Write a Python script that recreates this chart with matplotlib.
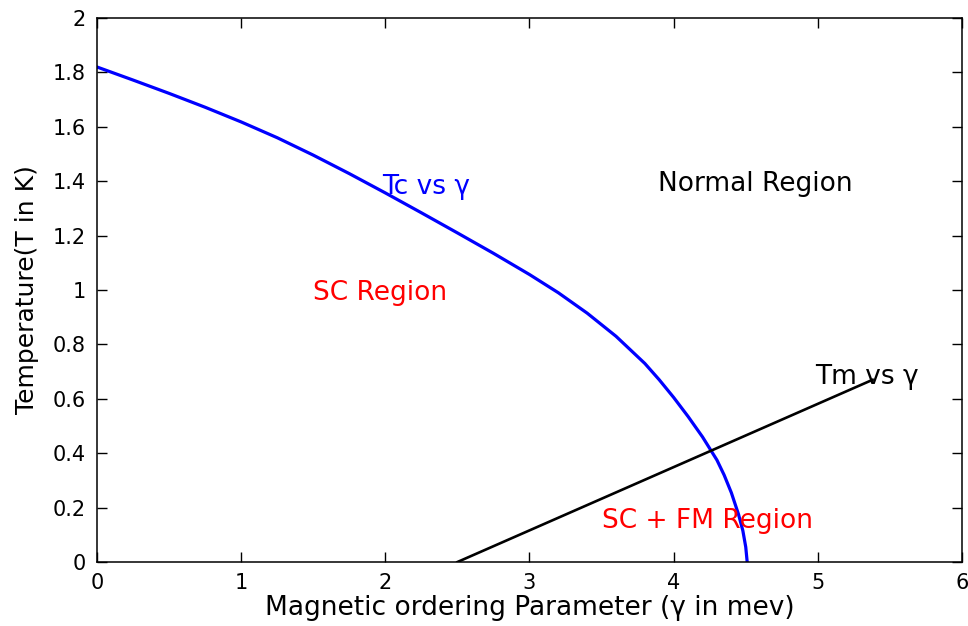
import matplotlib
matplotlib.use("Agg")
import matplotlib.pyplot as plt

# Tc vs gamma
gamma_tc = [0.0, 0.25, 0.5, 0.75, 1.0, 1.25, 1.5, 1.75, 2.0, 2.25, 2.5, 2.75, 3.0,
            3.2, 3.4, 3.6, 3.8, 3.9, 4.0, 4.1, 4.2, 4.3, 4.35, 4.4, 4.45, 4.48, 4.5, 4.51]
tc = [1.82, 1.772, 1.723, 1.672, 1.618, 1.56, 1.496, 1.428, 1.357, 1.284, 1.21, 1.135, 1.057,
      0.99, 0.915, 0.83, 0.73, 0.67, 0.605, 0.535, 0.46, 0.375, 0.32, 0.255, 0.175, 0.115, 0.055, 0.0]

# Tm vs gamma
gamma_tm = [2.5, 5.38]
tm = [0.0, 0.67]

plt.rcParams['font.family'] = ['DejaVu Sans']

fig = plt.figure(figsize=(9.68, 6.26), dpi=100)
ax = fig.add_axes([0.1002, 0.1022, 0.8936, 0.869])

ax.plot(gamma_tc, tc, color='#0000ff', linewidth=2.3, solid_joinstyle='round')
ax.plot(gamma_tm, tm, color='black', linewidth=1.9)

ax.text(1.98, 1.38, 'Tc vs γ', color='#0000ff', fontsize=19, va='center')
ax.text(3.89, 1.39, 'Normal Region', color='black', fontsize=19, va='center')
ax.text(1.5, 0.99, 'SC Region', color='red', fontsize=19, va='center')
ax.text(4.98, 0.68, 'Tm vs γ', color='black', fontsize=19, va='center')
ax.text(3.5, 0.15, 'SC + FM Region', color='red', fontsize=19, va='center')

ax.set_xlim(0, 6)
ax.set_ylim(0, 2)
ax.set_xticks([0, 1, 2, 3, 4, 5, 6])
ax.set_yticks([0, 0.2, 0.4, 0.6, 0.8, 1, 1.2, 1.4, 1.6, 1.8, 2])
ax.set_yticklabels(['0', '0.2', '0.4', '0.6', '0.8', '1', '1.2', '1.4', '1.6', '1.8', '2'])
ax.tick_params(direction='in', top=True, right=True, length=7, width=1.0, labelsize=15, pad=8)
for s in ax.spines.values():
    s.set_linewidth(1.1)

ax.set_xlabel('Magnetic ordering Parameter (γ in mev)', fontsize=19, labelpad=1)
ax.set_ylabel('Temperature(T in K)', fontsize=18, labelpad=10)

fig.savefig('out.png', dpi=100)
